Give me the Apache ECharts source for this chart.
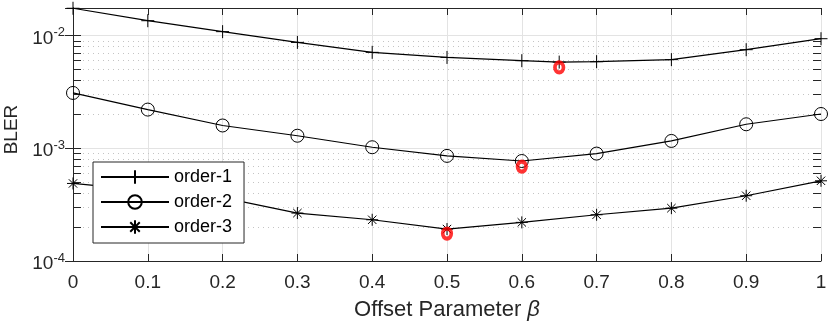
<!DOCTYPE html>
<html>
<head>
<meta charset="utf-8">
<script src="https://cdn.jsdelivr.net/npm/echarts@6/dist/echarts.min.js"></script>
<style>
  html, body { margin: 0; padding: 0; background: #fff; }
  #chart { width: 832px; height: 324px; }
</style>
</head>
<body>
<div id="chart"></div>
<script>
// ---- data ----
const betaOrder1 = [0, 0.1, 0.2, 0.3, 0.4, 0.5, 0.6, 0.65, 0.7, 0.8, 0.9, 1.0];
const order1 = [0.0174, 0.0135, 0.0108, 0.00867, 0.00708, 0.00638, 0.00597, 0.0058, 0.00585, 0.0061, 0.00747, 0.00935];
const beta = [0, 0.1, 0.2, 0.3, 0.4, 0.5, 0.6, 0.7, 0.8, 0.9, 1.0];
const order2 = [0.00309, 0.0022, 0.00159, 0.00129, 0.00102, 0.000855, 0.00077, 0.000896, 0.00116, 0.00163, 0.00201];
const order3 = [0.000487, 0.00042, 0.000365, 0.000266, 0.000232, 0.000192, 0.00022, 0.000257, 0.000294, 0.000379, 0.000514];
const optimumBeta = [0.65, 0.6, 0.5];
const optimumBler = [0.0052, 0.000687, 0.000175];
const seriesNames = ['order-1', 'order-2', 'order-3'];
const xLabelName = 'Offset Parameter ';
const yLabelName = 'BLER';
const xMin = 0, xMax = 1;
const yMin = 1e-4, yMax = 0.0175;
const minorMantissas = [2, 3, 4, 5, 6, 7, 8, 9];
const minorDecades = [1e-4, 1e-3];

// ---- build ----
const FONT = '"Liberation Sans", Arial, Helvetica, sans-serif';
const AX = '#262626';
const pairs = (xs, ys) => xs.map((x, i) => [x, ys[i]]);
const minorVals = [];
minorDecades.forEach(d => minorMantissas.forEach(m => { const v = m * d; if (v < yMax) minorVals.push(v); }));

const plusPath = 'path://M0,-1L0,1M-1,0L1,0';
const starPath = 'path://M0,-1L0,1M-1,0L1,0M-0.7,-0.7L0.7,0.7M-0.7,0.7L0.7,-0.7';

const markerStyle = { color: 'transparent', borderColor: '#000', borderWidth: 1 };
const lineStyle = { color: '#000', width: 1.2 };

function minorGridItem(params, api) {
  const v = api.value(0);
  const a = api.coord([xMin, v]);
  const b = api.coord([xMax, v]);
  const y = Math.round(a[1]) + 0.5;
  return {
    type: 'group',
    children: [
      { type: 'line', shape: { x1: a[0], y1: y, x2: b[0], y2: y },
        style: { stroke: '#c4c4c4', lineWidth: 1, lineDash: [1, 4] }, silent: true },
      { type: 'line', shape: { x1: a[0], y1: y, x2: a[0] + 8, y2: y },
        style: { stroke: AX, lineWidth: 1 }, silent: true },
      { type: 'line', shape: { x1: b[0] - 8, y1: y, x2: b[0], y2: y },
        style: { stroke: AX, lineWidth: 1 }, silent: true }
    ]
  };
}

const chart = echarts.init(document.getElementById('chart'), null, { renderer: 'canvas' });
chart.setOption({
  animation: false,
  backgroundColor: '#fff',
  textStyle: { fontFamily: FONT },
  grid: { left: 73, right: 11, top: 8, bottom: 63, containLabel: false, outerBoundsMode: 'none' },
  legend: {
    data: seriesNames,
    orient: 'vertical',
    left: 93, top: 162, z: 20,
    padding: [6, 12, 7, 7],
    itemWidth: 68, itemHeight: 17, itemGap: 7,
    backgroundColor: '#fff',
    borderColor: AX, borderWidth: 1, borderRadius: 0,
    textStyle: { fontFamily: FONT, fontSize: 18, color: '#000' }
  },
  xAxis: [{
    type: 'value', min: xMin, max: xMax, interval: 0.1,
    name: xLabelName + '{i|β}', nameLocation: 'middle', nameGap: 38,
    nameTextStyle: { fontFamily: FONT, fontSize: 22, color: AX,
      rich: { i: { fontFamily: FONT, fontSize: 22, fontStyle: 'italic', color: AX } } },
    axisLine: { show: true, lineStyle: { color: AX, width: 1 } },
    axisTick: { show: true, inside: true, length: 7, lineStyle: { color: AX } },
    axisLabel: { fontFamily: FONT, fontSize: 19, color: AX, margin: 12,
      formatter: v => String(Math.round(v * 10) / 10) },
    splitLine: { show: true, lineStyle: { color: '#e3e3e3', width: 1, type: 'solid' } }
  }, {
    type: 'value', min: xMin, max: xMax, interval: 0.1, position: 'top',
    axisLine: { show: true, lineStyle: { color: AX, width: 1 } },
    axisTick: { show: true, inside: true, length: 7, lineStyle: { color: AX } },
    axisLabel: { show: false }, splitLine: { show: false }
  }],
  yAxis: [{
    type: 'log', logBase: 10, min: yMin, max: yMax,
    name: yLabelName, nameLocation: 'middle', nameGap: 50,
    nameTextStyle: { fontFamily: FONT, fontSize: 19, color: AX, padding: [0, 0, 0, 10] },
    axisLine: { show: true, lineStyle: { color: AX, width: 1 } },
    axisTick: { show: true, inside: true, length: 8, lineStyle: { color: AX } },
    axisLabel: {
      margin: 8, color: AX,
      formatter: v => {
        const e = Math.log10(v);
        if (Math.abs(e - Math.round(e)) > 1e-6) return '';
        return '{b|10}{s|' + Math.round(e) + '}';
      },
      rich: {
        b: { fontFamily: FONT, fontSize: 19, color: AX, padding: [6, 0, 0, 0] },
        s: { fontFamily: FONT, fontSize: 13, color: AX, padding: [0, 0, 6, 0] }
      }
    },
    splitLine: { show: true, lineStyle: { color: '#e3e3e3', width: 1, type: 'solid' } }
  }, {
    type: 'log', logBase: 10, min: yMin, max: yMax, position: 'right',
    axisLine: { show: true, lineStyle: { color: AX, width: 1 } },
    axisTick: { show: true, inside: true, length: 8, lineStyle: { color: AX } },
    axisLabel: { show: false }, splitLine: { show: false }
  }],
  series: [
    {
      name: 'minor-grid', type: 'custom', coordinateSystem: 'cartesian2d',
      xAxisIndex: 0, yAxisIndex: 0, z: 1, silent: true,
      data: minorVals.map(v => [v]),
      encode: { y: 0 },
      renderItem: minorGridItem
    },
    {
      name: seriesNames[0], type: 'line', data: pairs(betaOrder1, order1), z: 3,
      symbol: plusPath, symbolSize: 13, showAllSymbol: true,
      lineStyle: lineStyle, itemStyle: markerStyle
    },
    {
      name: seriesNames[1], type: 'line', data: pairs(beta, order2), z: 3,
      symbol: 'circle', symbolSize: 13, showAllSymbol: true,
      lineStyle: lineStyle, itemStyle: markerStyle
    },
    {
      name: seriesNames[2], type: 'line', data: pairs(beta, order3), z: 3,
      symbol: starPath, symbolSize: 12, showAllSymbol: true,
      lineStyle: lineStyle, itemStyle: markerStyle
    },
    {
      name: 'optimum', type: 'scatter', data: pairs(optimumBeta, optimumBler), z: 4,
      symbol: 'circle', symbolSize: [8.5, 10],
      itemStyle: { color: 'transparent', borderColor: '#ff0000', borderWidth: 4 }
    }
  ]
});
</script>
</body>
</html>
